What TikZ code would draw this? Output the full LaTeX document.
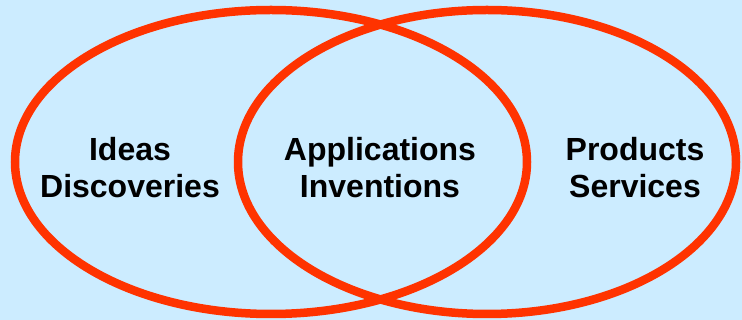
\documentclass[tikz,border=0pt]{standalone}
\usepackage{fontspec}
\setmainfont{Liberation Sans}
\definecolor{bgblue}{HTML}{CCECFF}
\definecolor{ringred}{HTML}{FF3300}
\begin{document}
\begin{tikzpicture}[x=1pt,y=-1pt,
  ring/.style={draw=ringred,line width=8.5pt},
  lbl/.style={align=center,font=\fontsize{32}{37}\selectfont\bfseries,text=black,inner sep=0pt}]
\fill[bgblue] (0,0) rectangle (742,320);
\useasboundingbox (0,0) rectangle (742,320);
\draw[ring] (271,162) ellipse [x radius=256, y radius=152];
\draw[ring] (487,162) ellipse [x radius=249, y radius=152];
\node[lbl] (ideas) at (130,168) {Ideas\\Discoveries};
\node[lbl] (apps) at (380,168) {Applications\\Inventions};
\node[lbl] (prod) at (635,168) {Products\\Services};
\end{tikzpicture}
\end{document}
